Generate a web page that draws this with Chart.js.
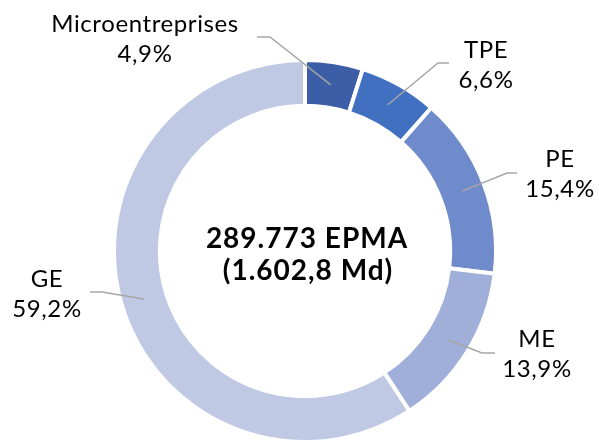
<!DOCTYPE html>
<html>
<head>
<meta charset="utf-8">
<script src="https://cdn.jsdelivr.net/npm/chart.js@4.4.0/dist/chart.umd.min.js"></script>
<style>
  html, body { margin: 0; padding: 0; background: #fff; }
  #wrap { width: 599px; height: 444px; }
</style>
</head>
<body>
<div id="wrap"><canvas id="grafico" width="599" height="444"></canvas></div>
<script>
// Répartition des entreprises (parts en %)
const categories = ["Microentreprises", "TPE", "PE", "ME", "GE"];
const parts = [4.9, 6.6, 15.4, 13.9, 59.2];
const etiquettes = ["4,9%", "6,6%", "15,4%", "13,9%", "59,2%"];
const couleurs = ["#3B5EA6", "#4170C0", "#6F8BCC", "#A0AFD9", "#C0C9E4"];
const titreCentre = ["289.773 EPMA", "(1.602,8 Md)"];

// position du texte (centre, ligne de base) et coude du trait de rappel
const placement = [
  { tx: 145, ty: 32, coude: [270, 37], fin: [257, 37] },
  { tx: 486, ty: 58, coude: [438, 63], fin: [449, 63] },
  { tx: 560, ty: 167, coude: [507, 173], fin: [517, 173] },
  { tx: 537, ty: 347, coude: [482, 353], fin: [495, 353] },
  { tx: 47, ty: 287, coude: [102, 292], fin: [90, 292] },
];

const POLICE = "Lato, 'Noto Sans', sans-serif";

const pluginEtiquettes = {
  id: "etiquettes",
  afterDatasetsDraw(chart) {
    const ctx = chart.ctx;
    const arcs = chart.getDatasetMeta(0).data;
    ctx.save();
    arcs.forEach((arc, i) => {
      const p = arc.getProps(["x", "y", "startAngle", "endAngle", "innerRadius", "outerRadius"], true);
      const a = (p.startAngle + p.endAngle) / 2;
      const r = p.innerRadius + (p.outerRadius - p.innerRadius) * 0.5;
      const sx = p.x + Math.cos(a) * r;
      const sy = p.y + Math.sin(a) * r;
      const pl = placement[i];
      ctx.strokeStyle = "#A6A6A6";
      ctx.lineWidth = 1.5;
      ctx.beginPath();
      ctx.moveTo(sx, sy);
      ctx.lineTo(pl.coude[0], pl.coude[1]);
      ctx.lineTo(pl.fin[0], pl.fin[1]);
      ctx.stroke();

      ctx.fillStyle = "#000";
      ctx.font = "24px " + POLICE;
      ctx.letterSpacing = "0.6px";
      ctx.textAlign = "center";
      ctx.textBaseline = "alphabetic";
      ctx.fillText(categories[i], pl.tx, pl.ty);
      ctx.fillText(etiquettes[i], pl.tx, pl.ty + 30);
    });

    // texte central
    const c = arcs[0];
    ctx.font = "bold 28px " + POLICE;
    ctx.letterSpacing = "1px";
    ctx.fillStyle = "#000";
    ctx.fillText(titreCentre[0], c.x + 2, 248);
    ctx.fillText(titreCentre[1], c.x + 3, 280);
    ctx.restore();
  },
};

new Chart(document.getElementById("grafico"), {
  type: "doughnut",
  data: {
    labels: categories,
    datasets: [
      {
        data: parts,
        backgroundColor: couleurs,
        borderColor: "#ffffff",
        borderWidth: 4,
        hoverOffset: 0,
      },
    ],
  },
  options: {
    responsive: false,
    animation: false,
    cutout: "76%",
    layout: { padding: { top: 58, bottom: -5, left: 109, right: 98 } },
    plugins: {
      legend: { display: false },
      tooltip: { enabled: false },
    },
  },
  plugins: [pluginEtiquettes],
});
</script>
</body>
</html>
